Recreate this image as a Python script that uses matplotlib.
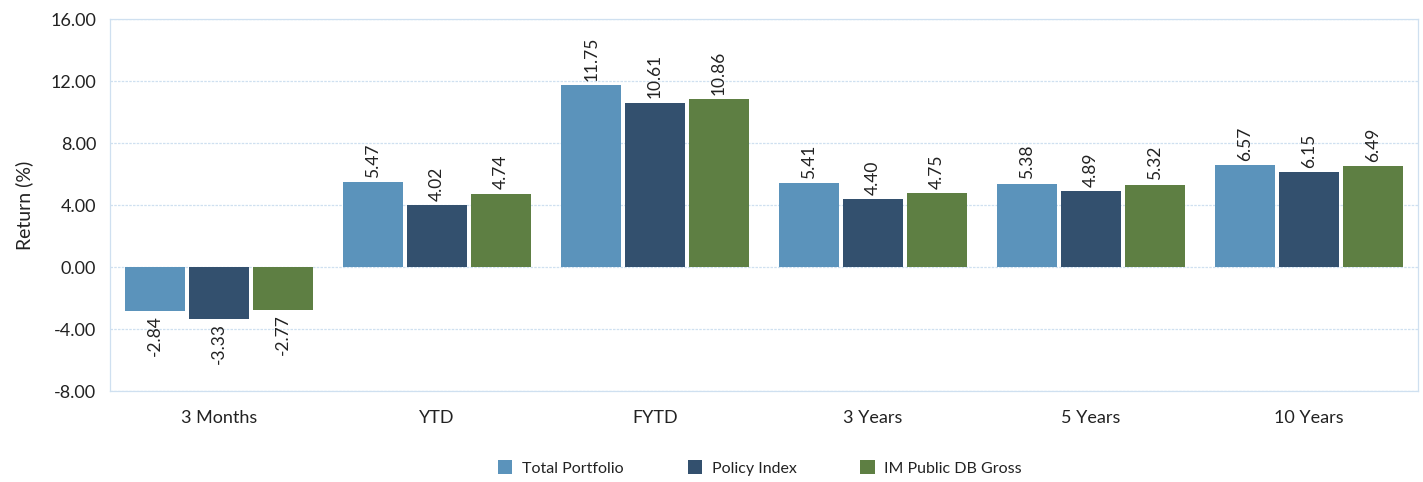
import matplotlib
matplotlib.use("Agg")
import matplotlib.pyplot as plt
import numpy as np

categories = ["3 Months", "YTD", "FYTD", "3 Years", "5 Years", "10 Years"]
series_names = ["Total Portfolio", "Policy Index", "IM Public DB Gross"]
total_portfolio = [-2.84, 5.47, 11.75, 5.41, 5.38, 6.57]
policy_index = [-3.33, 4.02, 10.61, 4.40, 4.89, 6.15]
im_public_db = [-2.77, 4.74, 10.86, 4.75, 5.32, 6.49]
colors = ["#5b93bb", "#33506e", "#5e7f43"]
yticks = [-8, -4, 0, 4, 8, 12, 16]

plt.rcParams['font.family'] = ['Lato', 'DejaVu Sans']

fig = plt.figure(figsize=(14.23, 4.82), dpi=100)
ax = fig.add_axes([110/1423, 1-391/482, 1308/1423, 372/482])

x = np.arange(len(categories))
w = 0.275
step = 0.293
for i, (vals, c, name) in enumerate(zip([total_portfolio, policy_index, im_public_db], colors, series_names)):
    pos = x + (i - 1) * step
    ax.bar(pos, vals, width=w, color=c, label=name, zorder=3)
    for p, v in zip(pos, vals):
        if v >= 0:
            ax.annotate(f"{v:.2f}", (p, v), xytext=(0, 3), textcoords="offset points",
                        rotation=90, ha="center", va="bottom", fontsize=12.5, color="#222222")
        else:
            ax.annotate(f"{v:.2f}", (p, v), xytext=(0, -3), textcoords="offset points",
                        rotation=90, ha="center", va="top", fontsize=12.5, color="#222222")

ax.set_xlim(-0.5, len(categories) - 0.5)
ax.set_ylim(-8, 16)
ax.set_yticks(yticks)
ax.set_yticklabels([f"{t:.2f}" for t in yticks], fontsize=13, color="#222222")
ax.set_xticks(x)
ax.set_xticklabels(categories, fontsize=13, color="#222222")
ax.tick_params(axis="both", length=0, pad=10)
ax.tick_params(axis="x", pad=14)
ax.yaxis.grid(True, color="#cfe0f0", linestyle=(0, (2, 1)), linewidth=0.9, zorder=0)
for s in ax.spines.values():
    s.set_color("#cfe0f0")
    s.set_linewidth(0.9)
ax.set_ylabel("Return (%)", fontsize=14, color="#222222", labelpad=12)

leg = fig.legend(loc="center", bbox_to_anchor=(760/1423, 1-468/482), ncol=3, frameon=False,
                 fontsize=11.5, handlelength=0.9, handleheight=0.9, columnspacing=4.0, handletextpad=0.6)
for t in leg.get_texts():
    t.set_color("#222222")

fig.savefig("out.png", dpi=100)
